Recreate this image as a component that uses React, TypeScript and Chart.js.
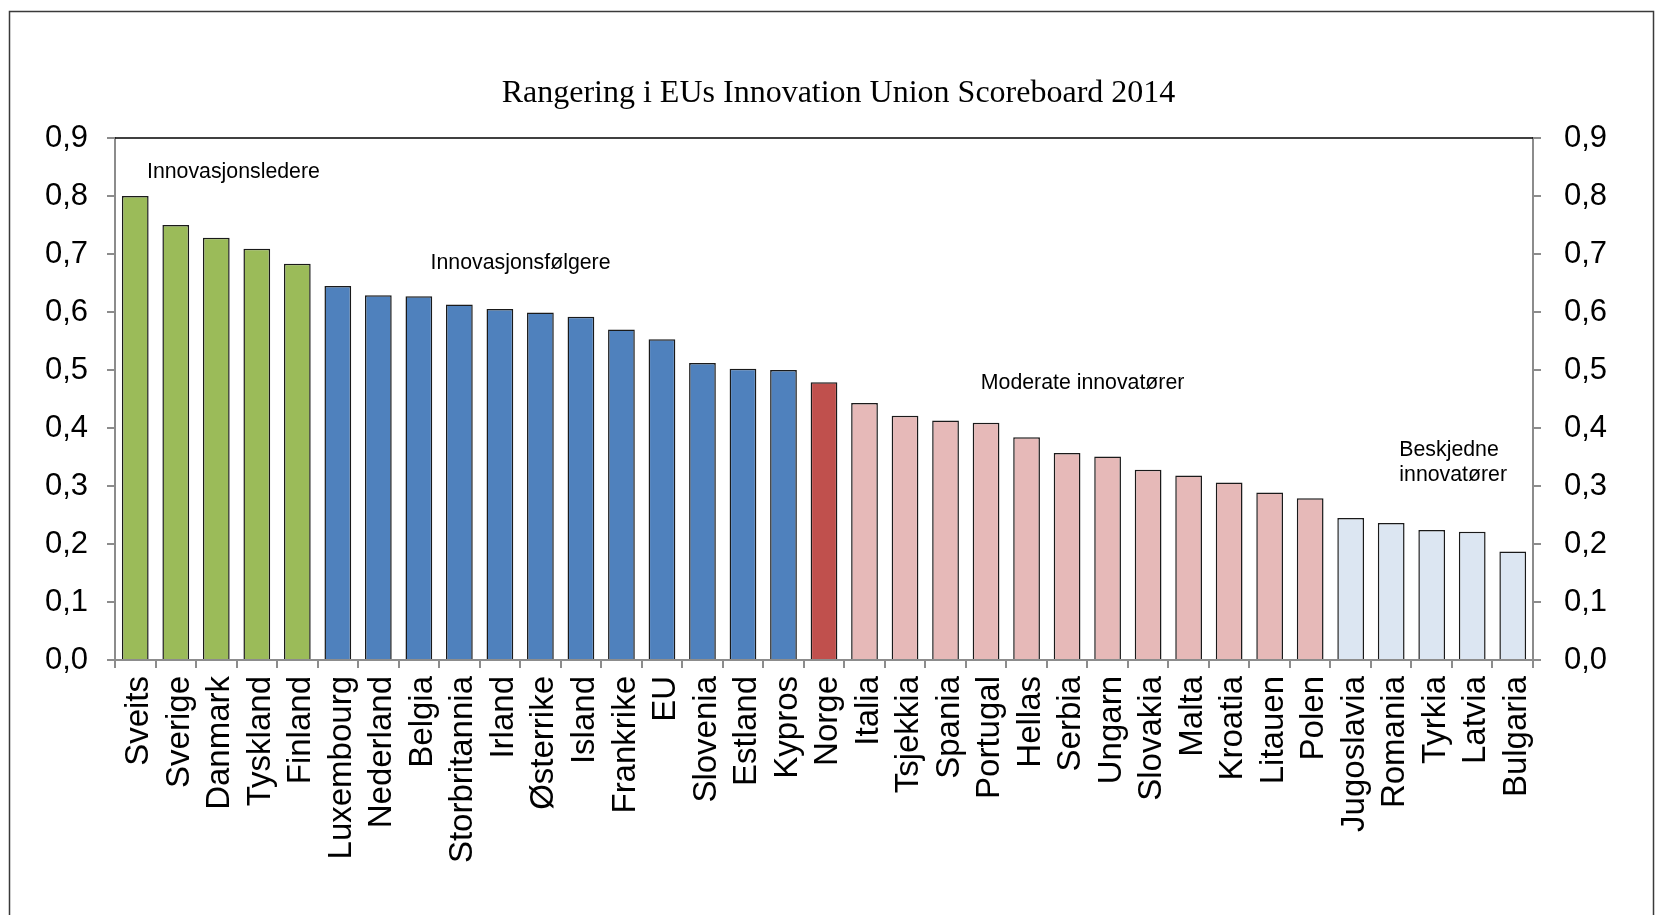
import React, { useEffect, useRef } from 'react';
import { Chart, registerables } from 'chart.js';

Chart.register(...registerables);

const titleText = 'Rangering i EUs Innovation Union Scoreboard 2014';

const categories = [
  'Sveits', 'Sverige', 'Danmark', 'Tyskland', 'Finland',
  'Luxembourg', 'Nederland', 'Belgia', 'Storbritannia', 'Irland', 'Østerrike', 'Island', 'Frankrike', 'EU', 'Slovenia', 'Estland', 'Kypros',
  'Norge',
  'Italia', 'Tsjekkia', 'Spania', 'Portugal', 'Hellas', 'Serbia', 'Ungarn', 'Slovakia', 'Malta', 'Kroatia', 'Litauen', 'Polen',
  'Jugoslavia', 'Romania', 'Tyrkia', 'Latvia', 'Bulgaria',
];

const values = [
  0.800, 0.750, 0.728, 0.709, 0.683,
  0.645, 0.629, 0.627, 0.613, 0.605, 0.599, 0.592, 0.570, 0.553, 0.512, 0.502, 0.500,
  0.479,
  0.443, 0.421, 0.413, 0.409, 0.384, 0.357, 0.351, 0.328, 0.318, 0.306, 0.289, 0.279,
  0.245, 0.236, 0.224, 0.221, 0.187,
];

const groups = [
  'leder', 'leder', 'leder', 'leder', 'leder',
  'folger', 'folger', 'folger', 'folger', 'folger', 'folger', 'folger', 'folger', 'folger', 'folger', 'folger', 'folger',
  'norge',
  'moderat', 'moderat', 'moderat', 'moderat', 'moderat', 'moderat', 'moderat', 'moderat', 'moderat', 'moderat', 'moderat', 'moderat',
  'beskjeden', 'beskjeden', 'beskjeden', 'beskjeden', 'beskjeden',
];

const groupColors: Record<string, string> = {
  leder: '#9BBB59',
  folger: '#4F81BD',
  norge: '#C0504D',
  moderat: '#E6B9B8',
  beskjeden: '#DCE6F2',
};

const yMin = 0;
const yMax = 0.9;
const yStep = 0.1;

// group annotations: text lines, anchored at a category position and a value
const annotationLabels = [
  ['Innovasjonsledere'],
  ['Innovasjonsfølgere'],
  ['Moderate innovatører'],
  ['Beskjedne', 'innovatører'],
];
const annotationCategoryPos = [0.29, 7.29, 20.87, 31.2];
const annotationValues = [0.841, 0.684, 0.477, 0.362];

const SANS = '"Liberation Sans", Arial, sans-serif';
const SERIF = '"Liberation Serif", "Times New Roman", serif';

const fmt = (v: number | string) => Number(v).toFixed(1).replace('.', ',');

const decorPlugin = {
  id: 'decor',
  afterDraw(chart: any) {
    const { ctx, chartArea, scales } = chart;
    ctx.save();
    // outer frame
    ctx.strokeStyle = '#3a3a3a';
    ctx.lineWidth = 1.5;
    ctx.strokeRect(9.5, 11.5, chart.width - 11, chart.height + 40);
    // top line of plot area
    ctx.strokeStyle = '#000000';
    ctx.lineWidth = 1.5;
    ctx.beginPath();
    ctx.moveTo(chartArea.left, chartArea.top);
    ctx.lineTo(chartArea.right, chartArea.top);
    ctx.stroke();
    // annotations
    ctx.fillStyle = '#000000';
    ctx.font = `21.3px ${SANS}`;
    ctx.textAlign = 'left';
    ctx.textBaseline = 'middle';
    const lineStep = scales.y.getPixelForValue(0) - scales.y.getPixelForValue(0.0435);
    annotationLabels.forEach((lines, i) => {
      const x = scales.x.getPixelForValue(annotationCategoryPos[i]);
      const y0 = scales.y.getPixelForValue(annotationValues[i]);
      lines.forEach((t, j) => ctx.fillText(t, x, y0 + j * lineStep));
    });
    ctx.restore();
  },
};

export default function App() {
  const ref = useRef<HTMLCanvasElement | null>(null);

  useEffect(() => {
    document.body.style.margin = '0';
    const canvas = ref.current;
    if (!canvas) return;
    const axisGrey = '#8c8c8c';
    const chart = new Chart(canvas, {
      type: 'bar',
      data: {
        labels: categories,
        datasets: [
          {
            data: values,
            backgroundColor: groups.map((g) => groupColors[g]),
            borderColor: '#1a1a1a',
            borderWidth: 1.5,
            barPercentage: 0.66,
            categoryPercentage: 1,
          },
        ],
      },
      options: {
        responsive: false,
        animation: false,
        layout: { padding: { left: 22, right: 0, top: 0, bottom: 0 } },
        plugins: {
          legend: { display: false },
          tooltip: { enabled: false },
          title: {
            display: true,
            text: titleText,
            color: '#000000',
            font: { family: SERIF, size: 32, weight: 'normal' },
            padding: { top: 74, bottom: 25.6 },
          },
        },
        scales: {
          x: {
            grid: {
              display: true,
              drawOnChartArea: false,
              drawTicks: true,
              tickLength: 8,
              color: axisGrey,
              lineWidth: 2,
              offset: true,
            },
            border: { display: true, color: axisGrey, width: 2 },
            ticks: {
              autoSkip: false,
              maxRotation: 90,
              minRotation: 90,
              color: '#000000',
              padding: 8,
              labelOffset: 4,
              font: { family: SANS, size: 33 },
            },
            afterFit: (s: any) => {
              s.height = 255;
            },
          },
          y: {
            position: 'left',
            min: yMin,
            max: yMax,
            grid: {
              display: true,
              drawOnChartArea: false,
              drawTicks: true,
              tickLength: 8,
              color: axisGrey,
              lineWidth: 2,
            },
            border: { display: true, color: axisGrey, width: 2 },
            ticks: {
              stepSize: yStep,
              color: '#000000',
              padding: 19,
              font: { family: SANS, size: 31 },
              callback: (v: any) => fmt(v),
            },
            afterFit: (s: any) => {
              s.width = 93;
            },
          },
          y2: {
            type: 'linear',
            position: 'right',
            min: yMin,
            max: yMax,
            grid: {
              display: true,
              drawOnChartArea: false,
              drawTicks: true,
              tickLength: 8,
              color: axisGrey,
              lineWidth: 2,
            },
            border: { display: true, color: axisGrey, width: 2 },
            ticks: {
              stepSize: yStep,
              color: '#000000',
              padding: 23,
              font: { family: SANS, size: 31 },
              callback: (v: any) => fmt(v),
            },
            afterFit: (s: any) => {
              s.width = 122;
            },
          },
        },
      } as any,
      plugins: [decorPlugin],
    });
    return () => chart.destroy();
  }, []);

  return (
    <div style={{ width: 1655, height: 915, background: '#ffffff' }}>
      <canvas ref={ref} width={1655} height={915} style={{ display: 'block' }} />
    </div>
  );
}
